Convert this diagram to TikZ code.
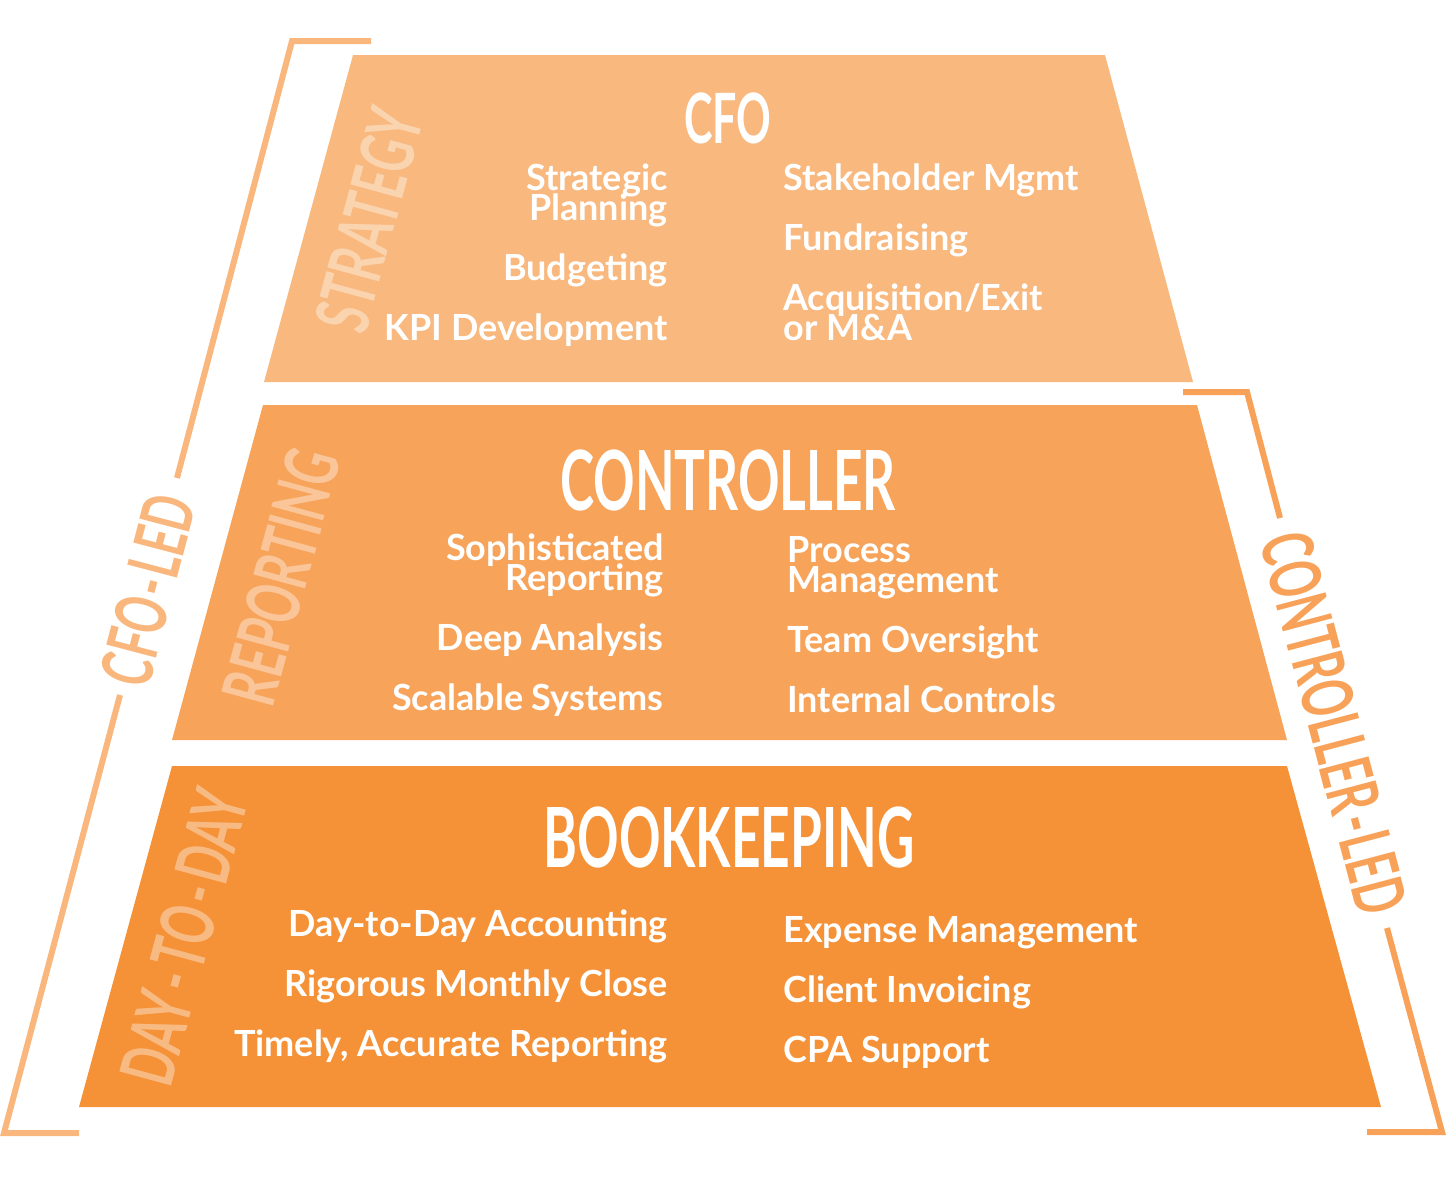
\documentclass[tikz,border=0pt]{standalone}
\usepackage{fontspec}
\setmainfont{Lato}
\newfontfamily\headfont[FakeStretch=0.62]{Lato}
\definecolor{tiertop}{HTML}{F8B87E}
\definecolor{tiermid}{HTML}{F7A35A}
\definecolor{tierbot}{HTML}{F59137}
\definecolor{brackL}{HTML}{F9B77D}
\definecolor{brackR}{HTML}{F8A259}
\newcommand\itemfont{\fontsize{18}{15}\selectfont\bfseries\lineskiplimit=-20pt\lineskip=0pt}
\newcommand\bigheadfont{\headfont\bfseries\fontsize{41.5}{42}\selectfont}
\newcommand\midheadfont{\headfont\bfseries\fontsize{34.7}{35}\selectfont}
\newcommand\sideheadfont{\headfont\bfseries\fontsize{37}{37}\selectfont}
\newcommand\brackheadfont{\headfont\bfseries\fontsize{35.5}{36}\selectfont}
\newcommand\hy{\kern2.5pt-\kern2.5pt}
\newcommand\hyb{\kern1.5pt-\kern1.5pt}
\tikzset{
  itemL/.style={font=\itemfont, text=white, inner sep=0pt, align=right, anchor=base east},
  itemR/.style={font=\itemfont, text=white, inner sep=0pt, align=left, anchor=base west},
  heading/.style={text=white, inner sep=0pt, anchor=base},
  sidelabel/.style={font=\sideheadfont, text=white, text opacity=0.38, inner sep=0pt, rotate=74.8},
  bracklabel/.style={font=\brackheadfont, inner sep=0pt},
  bracket/.style={line width=3pt, line cap=butt, line join=miter},
}
\begin{document}
\begin{tikzpicture}[x=0.5pt,y=-0.5pt]
\useasboundingbox (0,0) rectangle (1451,1184);
% tiers
\fill[tiertop] (353,55) -- (1105,55) -- (1193,382) -- (264,382) -- cycle;
\fill[tiermid] (263,405) -- (1197,405) -- (1287,740) -- (172,740) -- cycle;
\fill[tierbot] (172,766) -- (1287,766) -- (1381,1107) -- (79,1107) -- cycle;
% side labels inside tiers
\node[sidelabel] (strategy) at (369,220) {STRATEGY};
\node[sidelabel] (reporting) at (281,577) {REPORTING};
\node[sidelabel] (daytoday) at (184,937) {DAY\hy TO\hy DAY};
% headings
\node[heading, font=\midheadfont] (cfo) at (728,143) {CFO};
\node[heading, font=\bigheadfont] (controller) at (728,510) {CONTROLLER};
\node[heading, font=\bigheadfont] (bookkeeping) at (729,867) {BOOKKEEPING};
% CFO items
\node[itemL] (stratplan) at (668,220) {Strategic\\Planning};
\node[itemL] (budget) at (668,280) {Budgeting};
\node[itemL] (kpi) at (668,340) {KPI Development};
\node[itemR] (stake) at (783,190) {Stakeholder Mgmt};
\node[itemR] (fund) at (783,250) {Fundraising};
\node[itemR] (acq) at (783,340) {Acquisition/Exit\\or M\&A};
% Controller items
\node[itemL] (soph) at (664,590) {Sophisticated\\Reporting};
\node[itemL] (deep) at (664,650) {Deep Analysis};
\node[itemL] (scal) at (664,710) {Scalable Systems};
\node[itemR] (proc) at (787,592) {Process\\Management};
\node[itemR] (team) at (787,652) {Team Oversight};
\node[itemR] (intc) at (787,712) {Internal Controls};
% Bookkeeping items
\node[itemL] (dtd) at (668,936) {Day-to-Day Accounting};
\node[itemL] (rig) at (668,996) {Rigorous Monthly Close};
\node[itemL] (tim) at (668,1056) {Timely, Accurate Reporting};
\node[itemR] (exp) at (783,942) {Expense Management};
\node[itemR] (cli) at (783,1002) {Client Invoicing};
\node[itemR] (cpa) at (783,1062) {CPA Support};
% left bracket
\coordinate (L1) at (371,41);
\coordinate (L2) at (292,41);
\coordinate (L3) at (177,478);
\coordinate (L4) at (120,695);
\coordinate (L5) at (4,1133);
\coordinate (L6) at (79,1133);
\draw[bracket, brackL] (L1) -- (L2) -- (L3);
\draw[bracket, brackL] (L4) -- (L5) -- (L6);
\node[bracklabel, text=brackL, rotate=75.3] (cfoled) at (148,590) {CFO\hyb LED};
% right bracket
\coordinate (R1) at (1183,392);
\coordinate (R2) at (1247,392);
\coordinate (R3) at (1280,518);
\coordinate (R4) at (1387,928);
\coordinate (R5) at (1442,1132);
\coordinate (R6) at (1367,1132);
\draw[bracket, brackR] (R1) -- (R2) -- (R3);
\draw[bracket, brackR] (R4) -- (R5) -- (R6);
\node[bracklabel, text=brackR, rotate=-75.2] (ctrlled) at (1334,723) {CONTROLLER\hyb LED};
\end{tikzpicture}
\end{document}
